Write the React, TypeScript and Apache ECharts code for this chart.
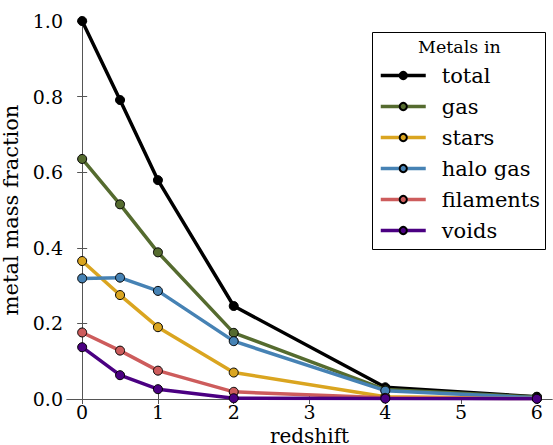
import React, { useEffect, useRef } from "react";
import * as echarts from "echarts";

const redshift = [0, 0.5, 1, 2, 4, 6];
const seriesNames = ["total", "gas", "stars", "halo gas", "filaments", "voids"];
const total = [1.0, 0.791, 0.579, 0.246, 0.031, 0.006];
const gas = [0.635, 0.515, 0.388, 0.175, 0.025, 0.005];
const stars = [0.365, 0.275, 0.19, 0.07, 0.006, 0.002];
const haloGas = [0.319, 0.321, 0.286, 0.153, 0.022, 0.003];
const filaments = [0.176, 0.128, 0.075, 0.019, 0.003, 0.001];
const voids = [0.137, 0.063, 0.026, 0.002, 0.001, 0.0005];
const colors = ["#000000", "#556B2F", "#DAA520", "#4682B4", "#CD5C5C", "#4B0082"];
const xTicks = [0, 1, 2, 3, 4, 5, 6];

const FONT = "DejaVu Serif";

export default function App() {
  const ref = useRef<HTMLDivElement>(null);
  useEffect(() => {
    if (!ref.current) return;
    const chart = echarts.init(ref.current, null, { renderer: "svg" });
    const values = [total, gas, stars, haloGas, filaments, voids];
    const axisColor = "#555";
    const tickCommon = { show: true, inside: true, length: 5, lineStyle: { color: axisColor, width: 1 } };
    chart.setOption({
      animation: false,
      backgroundColor: "#fff",
      grid: { left: 67, top: 21, right: 1, bottom: 46, containLabel: false, outerBoundsMode: "none" },
      xAxis: [
        {
          type: "value",
          min: -0.2,
          max: 6.2,
          position: "bottom",
          name: "redshift",
          nameLocation: "middle",
          nameGap: 20,
          nameTextStyle: { fontFamily: FONT, fontSize: 20, lineHeight: 20, color: "#000" },
          axisLine: { show: true, lineStyle: { color: axisColor, width: 1 } },
          axisTick: { ...tickCommon, customValues: xTicks },
          axisLabel: { customValues: xTicks, fontFamily: FONT, fontSize: 19, color: "#000", margin: 3 },
          splitLine: { show: false },
        },
        {
          type: "value",
          min: -0.2,
          max: 6.2,
          position: "top",
          axisLine: { show: true, lineStyle: { color: axisColor, width: 1 } },
          axisTick: { ...tickCommon, customValues: xTicks },
          axisLabel: { show: false },
          splitLine: { show: false },
        },
      ],
      yAxis: [
        {
          type: "value",
          min: 0,
          max: 1,
          interval: 0.2,
          position: "left",
          name: "metal mass fraction",
          nameLocation: "middle",
          nameGap: 41,
          nameTextStyle: { fontFamily: FONT, fontSize: 21, lineHeight: 17, color: "#000" },
          axisLine: { show: true, lineStyle: { color: axisColor, width: 1 } },
          axisTick: tickCommon,
          axisLabel: { fontFamily: FONT, fontSize: 19, color: "#000", margin: 4, formatter: (v: number) => v.toFixed(1) },
          splitLine: { show: false },
        },
        {
          type: "value",
          min: 0,
          max: 1,
          interval: 0.2,
          position: "right",
          axisLine: { show: true, lineStyle: { color: axisColor, width: 1 } },
          axisTick: tickCommon,
          axisLabel: { show: false },
          splitLine: { show: false },
        },
      ],
      legend: {
        orient: "vertical",
        left: 379,
        top: 65,
        padding: 0,
        itemWidth: 45,
        itemHeight: 9,
        itemGap: 10,
        z: 10,
        lineStyle: { width: 3.5 },
        textStyle: { fontFamily: FONT, fontSize: 21, color: "#000", lineHeight: 20, padding: [0, 0, 0, 11] },
        data: seriesNames,
      },
      graphic: [
        {
          type: "rect",
          left: 372,
          top: 32,
          z: 5,
          shape: { width: 173, height: 217 },
          style: { fill: "#fff", stroke: "#000", lineWidth: 1 },
        },
        {
          type: "text",
          left: 418,
          top: 38,
          z: 11,
          style: { text: "Metals in", fontFamily: FONT, fontSize: 17.5, fill: "#000" },
        },
      ],
      series: values.map((vals, i) => ({
        name: seriesNames[i],
        type: "line",
        xAxisIndex: 0,
        yAxisIndex: 0,
        data: redshift.map((x, j) => [x, vals[j]]),
        symbol: "circle",
        symbolSize: 9,
        showSymbol: true,
        color: colors[i],
        lineStyle: { color: colors[i], width: 3.5 },
        itemStyle: { color: colors[i], borderColor: "#000", borderWidth: 1 },
        z: 2 + i,
      })),
    });
    return () => chart.dispose();
  }, []);
  return <div ref={ref} style={{ width: 553, height: 445, position: "absolute", left: 0, top: 0 }} />;
}
